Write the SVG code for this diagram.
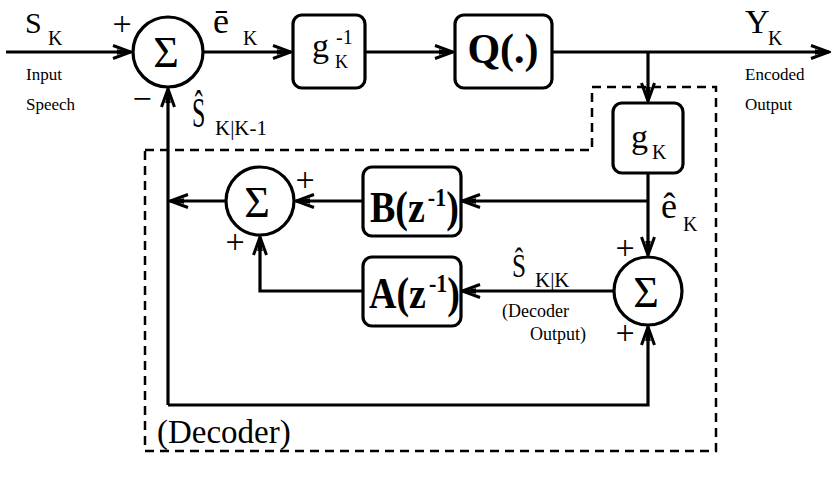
<svg xmlns="http://www.w3.org/2000/svg" width="832" height="480" viewBox="0 0 832 480" font-family="Liberation Serif, Times New Roman, serif">
<style>
.ln{fill:none;stroke:#000;stroke-width:3.2;marker-end:url(#arr)}
.bx{fill:#fff;stroke:#000;stroke-width:3.2}
.cr{fill:#fff;stroke:#000;stroke-width:3.2}
.dash{fill:none;stroke:#000;stroke-width:2.5;stroke-dasharray:9 6}
</style>
<defs>
<marker id="arr" markerUnits="userSpaceOnUse" viewBox="-20 -9 22 18" refX="0" refY="0" markerWidth="22" markerHeight="18" orient="auto">
<path d="M-18,-6.5 L0,0 L-18,6.5" fill="none" stroke="#000" stroke-width="3"/>
<path d="M0,0 L-14,-2.8 L-14,2.8 Z" fill="#000"/>
</marker>
</defs>
<g id="decoder-boundary">
<path class="dash" d="M145,150 L592,150 L592,87 L716,87 L716,451 L145,451 Z"/>
<text x="157" y="443" font-size="33">(Decoder)</text>
</g>
<g id="connectors">
<path class="ln" d="M6,52 L131,52"/>
<path class="ln" d="M203,52 L291,52"/>
<path class="ln" d="M365,52 L453,52"/>
<path class="ln" d="M552,52 L829,52"/>
<path class="ln" d="M648,52 L648,101"/>
<path class="ln" d="M648,173 L648,255"/>
<path class="ln" d="M648,201 L462,201"/>
<path class="ln" d="M614,291 L462,291"/>
<path class="ln" d="M363,201 L296,201"/>
<path class="ln" d="M226,201 L170,201"/>
<path class="ln" d="M363,291 L260,291 L260,237"/>
<path class="ln" d="M168,405 L168,89"/>
<path class="ln" d="M168,405 L648,405 L648,327"/>
</g>
<g id="input-label">
<text x="25" y="33" font-size="30">S</text>
<text x="48" y="45" font-size="20">K</text>
<text x="26" y="80" font-size="17">Input</text>
<text x="26" y="110" font-size="17">Speech</text>
</g>
<g id="sum1">
<circle class="cr" cx="168" cy="52" r="35"/>
<text x="166" y="67" font-size="44" text-anchor="middle">Σ</text>
<text x="122" y="35" font-size="34" text-anchor="middle">+</text>
<text x="142" y="110" font-size="34" text-anchor="middle">−</text>
</g>
<g id="ebar-label">
<text x="213" y="33" font-size="36">ē</text>
<text x="243" y="45" font-size="20">K</text>
</g>
<g id="shat-pred-label">
<text transform="translate(192,127) scale(0.75,1.35)" font-size="32">Ŝ</text>
<text x="215" y="135" font-size="21">K|K-1</text>
</g>
<g id="ginv">
<rect class="bx" x="293" y="15" width="72" height="73" rx="9"/>
<text x="312" y="57" font-size="34">g</text>
<text x="336" y="44" font-size="20">-1</text>
<text x="335" y="68" font-size="18">K</text>
</g>
<g id="quantizer">
<rect class="bx" x="455" y="15" width="97" height="73" rx="9"/>
<text x="503" y="63" font-weight="bold" font-size="42" text-anchor="middle">Q(.)</text>
</g>
<g id="output-label">
<text x="745" y="33" font-size="34">Y</text>
<text x="768" y="45" font-size="20">K</text>
<text x="745" y="80" font-size="17">Encoded</text>
<text x="745" y="110" font-size="17">Output</text>
</g>
<g id="gk">
<rect class="bx" x="613" y="103" width="70" height="70" rx="9"/>
<text x="631" y="148" font-size="34">g</text>
<text x="652" y="159" font-size="20">K</text>
</g>
<g id="ehat-label">
<text x="661" y="218" font-size="36">ê</text>
<text x="683" y="231" font-size="20">K</text>
</g>
<g id="bz">
<rect class="bx" x="363" y="167" width="98" height="69" rx="9"/>
<text transform="translate(370,222) scale(1,1.15)" font-weight="bold" font-size="38">B(z<tspan dx="3" dy="-14" font-size="22">-1</tspan><tspan dy="14">)</tspan></text>
</g>
<g id="az">
<rect class="bx" x="363" y="257" width="98" height="69" rx="9"/>
<text transform="translate(369,308) scale(1,1.15)" font-weight="bold" font-size="38">A(z<tspan dx="3" dy="-14" font-size="22">-1</tspan><tspan dy="14">)</tspan></text>
</g>
<g id="sum3">
<circle class="cr" cx="260" cy="201" r="34"/>
<text x="257" y="217" font-size="44" text-anchor="middle">Σ</text>
<text x="305" y="191" font-size="34" text-anchor="middle">+</text>
<text x="235" y="253" font-size="34" text-anchor="middle">+</text>
</g>
<g id="sum2">
<circle class="cr" cx="648" cy="291" r="34"/>
<text x="646" y="307" font-size="44" text-anchor="middle">Σ</text>
<text x="625" y="259" font-size="34" text-anchor="middle">+</text>
<text x="625" y="344" font-size="34" text-anchor="middle">+</text>
</g>
<g id="shat-dec-label">
<text transform="translate(512,277) scale(0.9,1.2)" font-size="28">Ŝ</text>
<text x="535" y="287" font-size="21">K|K</text>
<text x="502" y="317" font-size="18">(Decoder</text>
<text x="530" y="340" font-size="18">Output)</text>
</g>
</svg>
